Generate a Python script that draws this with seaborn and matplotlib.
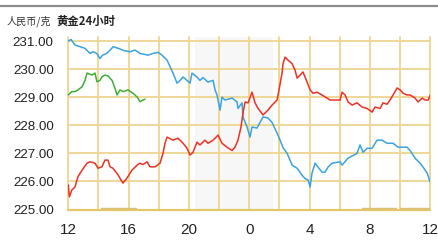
import matplotlib
matplotlib.use("Agg")
import matplotlib.pyplot as plt
from matplotlib.lines import Line2D
import seaborn as sns
import pandas as pd

# ---- data (x = hours after 12:00) ----
blue_x = [0.0, 0.18, 0.44, 0.78, 1.11, 1.44, 1.66, 1.88, 2.10, 2.28, 2.55, 2.77, 2.98, 3.32, 3.69, 4.09,
          4.42, 4.75, 5.29, 5.62, 5.95, 6.21, 6.55, 6.94, 7.21, 7.41, 7.61, 7.87, 8.07, 8.20, 8.53, 8.73,
          8.93, 9.26, 9.60, 9.73, 9.86, 10.06, 10.19, 10.39, 10.86, 11.19, 11.25, 11.52, 11.58, 11.85,
          12.05, 12.18, 12.51, 12.91, 13.24, 13.51, 13.84, 14.04, 14.24, 14.51, 14.84, 15.17, 15.50,
          15.70, 15.90, 16.03, 16.16, 16.36, 16.56, 16.82, 17.02, 17.22, 17.49, 18.02, 18.15, 18.55,
          19.14, 19.34, 19.54, 19.81, 20.14, 20.47, 20.80, 21.13, 21.53, 21.86, 22.20, 22.46, 22.66,
          22.99, 23.32, 23.52, 23.79, 23.99]
blue_y = [231.00, 231.06, 230.86, 230.80, 230.74, 230.56, 230.62, 230.56, 230.38, 230.50, 230.56, 230.68,
          230.80, 230.74, 230.66, 230.62, 230.68, 230.56, 230.50, 230.56, 230.60, 230.50, 230.32, 229.86,
          229.50, 229.60, 229.72, 229.60, 229.50, 229.86, 229.72, 229.60, 229.70, 229.54, 229.60, 229.26,
          229.08, 228.54, 229.00, 228.90, 228.97, 228.83, 228.60, 228.80, 228.30, 227.94, 227.58, 227.94,
          227.90, 228.30, 228.26, 228.10, 227.72, 227.47, 227.20, 227.00, 226.58, 226.47, 226.22, 226.10,
          226.05, 225.80, 226.30, 226.65, 226.51, 226.33, 226.33, 226.51, 226.65, 226.70, 226.58, 226.83,
          227.00, 227.30, 227.04, 227.18, 227.18, 227.47, 227.47, 227.36, 227.36, 227.22, 227.22, 227.22,
          227.10, 226.83, 226.65, 226.51, 226.30, 225.98]

green_x = [0.0, 0.23, 0.44, 0.64, 0.91, 1.11, 1.24, 1.57, 1.77, 1.90, 2.10, 2.23, 2.43, 2.63, 2.90, 3.10,
           3.23, 3.43, 3.63, 3.96, 4.29, 4.56, 4.76, 4.95, 5.09]
green_y = [229.08, 229.20, 229.20, 229.26, 229.37, 229.60, 229.86, 229.79, 229.86, 229.55, 229.60, 229.73,
           229.79, 229.76, 229.60, 229.31, 229.08, 229.26, 229.20, 229.26, 229.14, 229.01, 228.84, 228.90,
           228.93]

red_x = [0.0, 0.07, 0.23, 0.44, 0.64, 0.91, 1.24, 1.44, 1.77, 1.97, 2.23, 2.43, 2.63, 2.77, 2.96, 3.30,
         3.56, 3.63, 3.89, 4.22, 4.56, 4.75, 4.95, 5.22, 5.42, 5.75, 6.08, 6.28, 6.41, 6.55, 6.94, 7.27,
         7.61, 7.87, 8.07, 8.27, 8.53, 8.73, 9.06, 9.26, 9.60, 9.93, 10.19, 10.52, 10.86, 11.05, 11.25,
         11.45, 11.58, 11.72, 11.92, 12.18, 12.38, 12.58, 12.91, 13.24, 13.51, 13.84, 13.97, 14.17, 14.24,
         14.37, 14.57, 14.83, 15.03, 15.17, 15.37, 15.56, 15.83, 16.03, 16.23, 16.49, 16.82, 17.15, 17.35,
         18.02, 18.15, 18.35, 18.55, 18.82, 19.14, 19.48, 19.81, 20.14, 20.34, 20.67, 20.87, 21.13, 21.33,
         21.53, 21.80, 22.00, 22.20, 22.46, 22.66, 22.99, 23.19, 23.46, 23.66, 23.86, 24.0]
red_y = [225.87, 225.45, 225.69, 225.80, 226.17, 226.40, 226.65, 226.70, 226.65, 226.47, 226.52, 226.76,
         226.76, 226.52, 226.47, 226.23, 225.99, 225.94, 226.12, 226.40, 226.58, 226.65, 226.60, 226.70,
         226.52, 226.52, 226.65, 227.00, 227.36, 227.58, 227.47, 227.54, 227.36, 227.18, 226.94, 227.04,
         227.40, 227.30, 227.47, 227.36, 227.47, 227.65, 227.36, 227.22, 227.10, 227.22, 227.47, 227.94,
         228.43, 228.83, 228.80, 229.18, 228.80, 228.60, 228.37, 228.54, 228.72, 228.90, 229.26, 229.86,
         230.20, 230.43, 230.32, 230.20, 229.97, 229.68, 229.79, 229.90, 229.54, 229.26, 229.14, 229.18,
         229.08, 228.97, 228.90, 228.90, 229.18, 229.08, 228.83, 228.72, 228.80, 228.65, 228.60, 228.47,
         228.65, 228.60, 228.80, 228.75, 228.90, 229.08, 229.33, 229.26, 229.14, 229.08, 229.08, 228.97,
         228.83, 228.97, 228.90, 228.90, 229.08]

# faint segments lying just on the baseline
base_segments = [([2.2, 4.5], [225.05, 225.05]),
                 ([19.5, 21.7], [225.05, 225.05]),
                 ([22.0, 24.0], [225.05, 225.05])]

x_ticks = [0, 4, 8, 12, 16, 20, 24]
x_labels = ["12", "16", "20", "0", "4", "8", "12"]
y_ticks = [225, 226, 227, 228, 229, 230, 231]
y_labels = ["225.00", "226.00", "227.00", "228.00", "229.00", "230.00", "231.00"]
shade_start, shade_end = 8.4, 13.55

title_unit = "人民币/克"
title_main = "黄金24小时"

# ---- figure ----
sns.set_theme(style="white")
plt.rcParams['font.family'] = ['Liberation Sans', 'DejaVu Sans']

W, H = 439, 241
fig = plt.figure(figsize=(W / 100, H / 100), dpi=100)
x0, x1 = 68.3, 430.3
ytop, ybot = 37.0, 209.5
px_per_unit = 28.07
ax = fig.add_axes([x0 / W, 1 - ybot / H, (x1 - x0) / W, (ybot - ytop) / H])

grid_c = "#eed690"
ax.axvspan(shade_start, shade_end, color="#f7f7f7", zorder=0, lw=0)

for v in range(0, 25, 2):
    ax.axvline(v, color=grid_c, lw=1.3, zorder=1, clip_on=False)
for v in y_ticks[1:]:
    ax.axhline(v, color=grid_c, lw=1.3, zorder=1)
ax.axhline(225, color="#e4c768", lw=1.6, zorder=1, clip_on=False)

for sx, sy in base_segments:
    sns.lineplot(x=sx, y=sy, ax=ax, color="#dcc07a", lw=1.0, zorder=2, estimator=None)

df_b = pd.DataFrame({"x": blue_x, "y": blue_y})
df_g = pd.DataFrame({"x": green_x, "y": green_y})
df_r = pd.DataFrame({"x": red_x, "y": red_y})
sns.lineplot(data=df_b, x="x", y="y", ax=ax, color="#3aa3e0", lw=1.1, zorder=3, estimator=None, sort=False)
sns.lineplot(data=df_g, x="x", y="y", ax=ax, color="#3fae35", lw=1.1, zorder=3, estimator=None, sort=False)
sns.lineplot(data=df_r, x="x", y="y", ax=ax, color="#ee3124", lw=1.1, zorder=4, estimator=None, sort=False)

ax.set_xlim(0, 24)
ax.set_ylim(225, 225 + (ybot - ytop) / px_per_unit)
ax.set_xticks(x_ticks)
ax.set_xticklabels(x_labels, fontsize=11, color="#222222")
ax.set_yticks(y_ticks)
ax.set_yticklabels(y_labels, fontsize=9.6, color="#222222")
ax.tick_params(axis="x", length=0, pad=10)
ax.tick_params(axis="y", length=0, pad=10.5)
ax.set_xlabel("")
ax.set_ylabel("")
for s in ax.spines.values():
    s.set_visible(False)
ax.set_facecolor("none")

# header
fig.add_artist(Line2D([0, 1], [1 - 5.5 / H, 1 - 5.5 / H], transform=fig.transFigure,
                      color="#8c8c8c", lw=1.6))
fig.text(7 / W, 1 - 21 / H, title_unit, fontsize=7.3, color="#333333", va="center", ha="left",
         family=['Noto Sans CJK SC', 'DejaVu Sans'])
fig.text(56 / W, 1 - 21 / H, title_main, fontsize=8.2, color="#222222", va="center", ha="left",
         fontweight="bold", family=['Noto Sans CJK SC', 'DejaVu Sans'])

fig.savefig("out.png", dpi=100)
